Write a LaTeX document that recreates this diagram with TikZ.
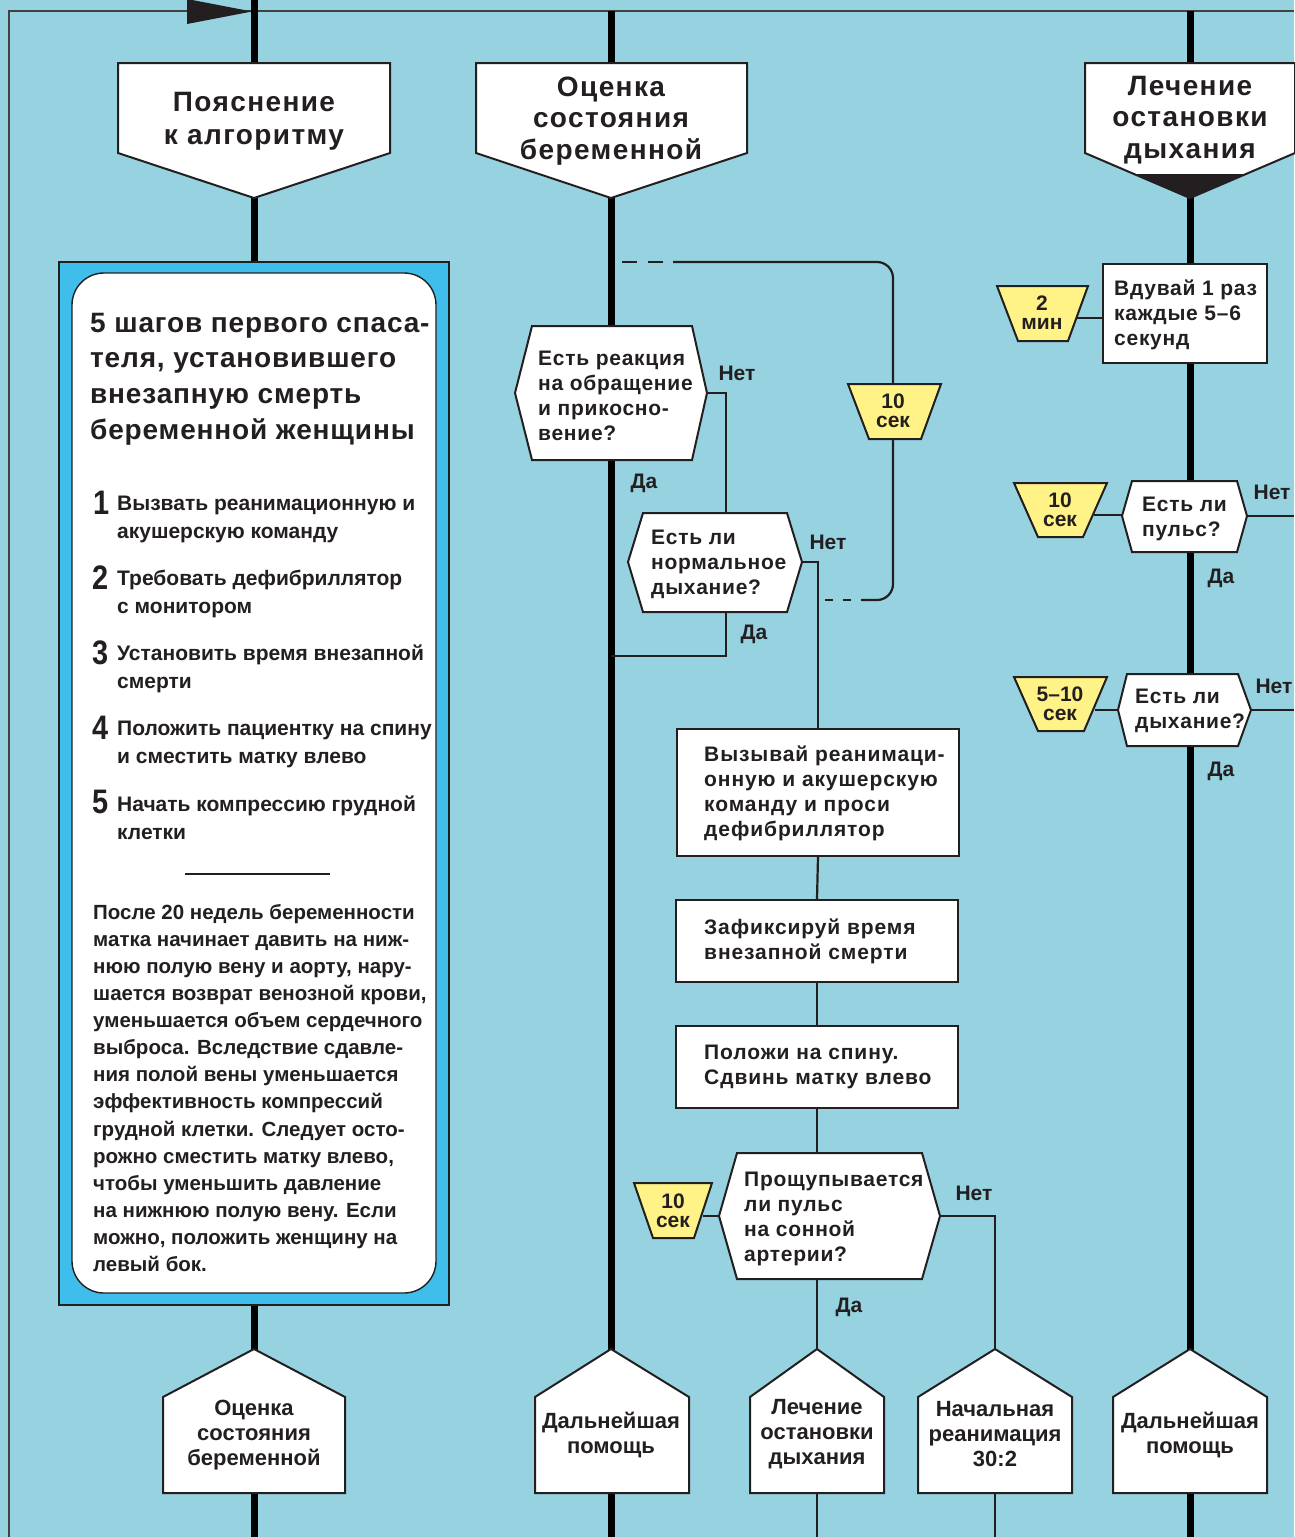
\documentclass[tikz,border=0pt]{standalone}
\usepackage{fontspec}
\setmainfont{Liberation Sans}
\newfontfamily\hdfont{Liberation Sans}[LetterSpace=5]
\newfontfamily\qfont{Liberation Sans}[LetterSpace=3.5]
\newfontfamily\rfont{Liberation Sans}[LetterSpace=4.3]
\newfontfamily\ttlfont{Liberation Sans}[LetterSpace=3]
\newfontfamily\numfont{Liberation Sans}[FakeStretch=0.85]
\definecolor{bgc}{HTML}{96D2E0}
\definecolor{boxblue}{HTML}{3FBDEB}
\definecolor{yel}{HTML}{FFF388}
\definecolor{ink}{HTML}{231F20}
\begin{document}
\begin{tikzpicture}[x=1pt,y=-1pt,
  lane/.style={line width=7pt, draw=black},
  conn/.style={line width=2.2pt, draw=ink},
  shp/.style={fill=white, draw=ink, line width=2pt, line join=miter},
  yshp/.style={fill=yel, draw=ink, line width=2pt},
  rbox/.style={shp, inner sep=0, anchor=north west},
  hdr/.style={inner sep=0, text=ink, align=center, font=\hdfont\bfseries\fontsize{28}{31.5}\selectfont},
  qtxt/.style={inner sep=0, text=ink, align=left, anchor=west, font=\qfont\bfseries\fontsize{21}{25}\selectfont},
  rtxt/.style={inner sep=0, text=ink, align=left, anchor=west, font=\rfont\bfseries\fontsize{21}{25}\selectfont},
  lbl/.style={inner sep=0, text=ink, font=\bfseries\fontsize{21}{25}\selectfont},
  ttxt/.style={inner sep=0, text=ink, align=center, font=\bfseries\fontsize{21}{19}\selectfont},
  btxt/.style={inner sep=0, text=ink, align=center, font=\bfseries\fontsize{22}{25}\selectfont},
  ttl/.style={inner sep=0, text=ink, align=left, anchor=west, font=\ttlfont\bfseries\fontsize{28}{35.7}\selectfont},
  itm/.style={inner sep=0, text=ink, align=left, anchor=west, font=\bfseries\fontsize{21}{28}\selectfont},
  num/.style={inner sep=0, text=ink, anchor=base west, font=\numfont\bfseries\fontsize{34}{34}\selectfont},
  par/.style={inner sep=0, text=ink, align=left, anchor=west, font=\bfseries\fontsize{20.5}{27.1}\selectfont}
]
\fill[bgc] (0,0) rectangle (1294,1537);
\useasboundingbox (0,0) rectangle (1294,1537);

% frame and flag
\coordinate (fBL) at (9,1537); \coordinate (fTL) at (9,11); \coordinate (fTR) at (1294,11);
\draw[ink!85, line width=1.4pt] (fBL) -- (fTL) -- (fTR);
\fill[ink] (187,-1) -- (252,11.5) -- (187,24) -- cycle;

% lanes
\coordinate (L1a) at (254,0);   \coordinate (L1b) at (254,1537);
\coordinate (L2a) at (611,11);  \coordinate (L2b) at (611,1537);
\coordinate (L3a) at (1190,11); \coordinate (L3b) at (1190,1537);
\draw[lane] (L1a) -- (L1b);
\draw[lane] (L2a) -- (L2b);
\draw[lane] (L3a) -- (L3b);

% named points for connectors
\coordinate (d1E) at (707,393);
\coordinate (d2top) at (726,513);
\coordinate (d2E) at (802,562);
\coordinate (d2S) at (726,612);
\coordinate (j1) at (611,656);
\coordinate (d3N) at (817,1153);
\coordinate (d3E) at (940,1216);
\coordinate (d3S) at (817,1279);
\coordinate (d3W) at (720,1216);
\coordinate (t5E) at (703,1216);
\coordinate (p3N) at (817,1349); \coordinate (p3S) at (817,1493); \coordinate (p3end) at (817,1537);
\coordinate (p4N) at (995,1349); \coordinate (p4S) at (995,1493); \coordinate (p4end) at (995,1537);
\coordinate (lpA) at (673,262); \coordinate (lpB) at (862,600);
\coordinate (t2E) at (1076,318); \coordinate (rDw) at (1102,318);
\coordinate (t3E) at (1094,515); \coordinate (d4W) at (1122,515);
\coordinate (d4E) at (1247,516); \coordinate (out1) at (1294,516);
\coordinate (t4E) at (1095,710); \coordinate (d5W) at (1118,710);
\coordinate (d5E) at (1251,710); \coordinate (out2) at (1294,710);

% rectangles
\node[rbox, minimum width=282, minimum height=127] (rA) at (676,728) {};
\node[rbox, minimum width=282, minimum height=82] (rB) at (675,899) {};
\node[rbox, minimum width=282, minimum height=82] (rC) at (675,1025) {};

% thin connectors
\draw[conn] (d1E) -| (d2top);
\draw[conn] (d2E) -| (rA.north);
\draw[conn] (d2S) |- (j1);
\draw[conn] (rA.south) -- (rB.north);
\draw[conn] (rB.south) -- (rC.north);
\draw[conn] (rC.south) -- (d3N);
\draw[conn] (d3E) -| (p4N);
\draw[conn] (d3S) -- (p3N);
\draw[conn] (t5E) -- (d3W);
\draw[conn] (p3S) -- (p3end);
\draw[conn] (p4S) -- (p4end);
\draw[conn, rounded corners=16] (lpA) -- (893,262) -- (893,600) -- (lpB);
\draw[conn, dash pattern=on 15pt off 11pt] (622,262) -- (lpA);
\draw[conn, dash pattern=on 8pt off 10pt] (825,600) -- (lpB);
\draw[conn] (t2E) -- (rDw);
\draw[conn] (t3E) -- (d4W);
\draw[conn] (d4E) -- (out1);
\draw[conn] (t4E) -- (d5W);
\draw[conn] (d5E) -- (out2);

% header pentagons
\draw[shp] (118,63) -- (390,63) -- (390,153) -- (254,198) -- (118,153) -- cycle;
\draw[shp] (476,63) -- (747,63) -- (747,153) -- (611,198) -- (476,153) -- cycle;
\draw[shp] (1085,63) -- (1295,63) -- (1295,153) -- (1190,198) -- (1085,153) -- cycle;
\fill[ink] (1133,174) -- (1247,174) -- (1190,198) -- cycle;

% left explanation box
\draw[fill=boxblue, draw=ink, line width=1.6pt] (59,262) rectangle (449,1305);
\draw[fill=white, draw=ink, line width=1.4pt, rounded corners=32] (72,273) rectangle (436,1293);
\coordinate (sepA) at (185,874); \coordinate (sepB) at (330,874);
\draw[line width=2pt, ink] (sepA) -- (sepB);

% decisions (hexagons)
\draw[shp] (532,326) -- (692,326) -- (707,393) -- (692,460) -- (532,460) -- (515,393) -- cycle;
\draw[shp] (643,513) -- (787,513) -- (802,562) -- (787,612) -- (643,612) -- (628,562) -- cycle;
\draw[shp] (737,1153) -- (922,1153) -- (940,1216) -- (922,1279) -- (737,1279) -- (719,1216) -- cycle;
\draw[shp] (1132,481) -- (1237,481) -- (1247,516) -- (1237,552) -- (1132,552) -- (1122,516) -- cycle;
\draw[shp] (1127,674) -- (1238,674) -- (1251,710) -- (1238,746) -- (1127,746) -- (1118,710) -- cycle;
\node[rbox, minimum width=164, minimum height=99] (rD) at (1102,263) {};

% yellow timers
\draw[yshp] (848,384) -- (941,384) -- (921,439) -- (869,439) -- cycle;
\draw[yshp] (997,286) -- (1088,286) -- (1068,341) -- (1018,341) -- cycle;
\draw[yshp] (1014,483) -- (1107,483) -- (1083,537) -- (1038,537) -- cycle;
\draw[yshp] (1014,677) -- (1107,677) -- (1084,731) -- (1038,731) -- cycle;
\draw[yshp] (634,1183) -- (712,1183) -- (694,1238) -- (653,1238) -- cycle;

% bottom pentagons
\draw[shp] (163,1397) -- (254,1349) -- (345,1397) -- (345,1493) -- (163,1493) -- cycle;
\draw[shp] (535,1397) -- (611,1349) -- (689,1397) -- (689,1493) -- (535,1493) -- cycle;
\draw[shp] (750,1397) -- (817,1349) -- (884,1397) -- (884,1493) -- (750,1493) -- cycle;
\draw[shp] (918,1397) -- (995,1349) -- (1072,1397) -- (1072,1493) -- (918,1493) -- cycle;
\draw[shp] (1113,1397) -- (1190,1349) -- (1267,1397) -- (1267,1493) -- (1113,1493) -- cycle;

% header texts
\node[hdr, font=\hdfont\bfseries\fontsize{28}{33}\selectfont] (h1) at (254,121) {Пояснение\\к алгоритму};
\node[hdr] (h2) at (611,121) {Оценка\\состояния\\беременной};
\node[hdr] (h3) at (1190,120) {Лечение\\остановки\\дыхания};

% left box texts
\node[ttl] (title) at (90,379) {5 шагов первого спаса-\\теля, установившего\\внезапную смерть\\беременной женщины};
\node[itm] (i1) at (117,519) {Вызвать реанимационную и\\акушерскую команду};
\node[itm] (i2) at (117,594) {Требовать дефибриллятор\\с монитором};
\node[itm] (i3) at (117,669) {Установить время внезапной\\смерти};
\node[itm] (i4) at (117,744) {Положить пациентку на спину\\и сместить матку влево};
\node[itm] (i5) at (117,818) {Начать компрессию грудной\\клетки};
\node[num] (n1) at (93,514) {1};
\node[num] (n2) at (92,589) {2};
\node[num] (n3) at (92,664) {3};
\node[num] (n4) at (92,739) {4};
\node[num] (n5) at (92,813) {5};
\node[par] (para) at (93,1088) {После 20 недель беременности\\матка начинает давить на ниж-\\нюю полую вену и аорту, нару-\\шается возврат венозной крови,\\уменьшается объем сердечного\\выброса. Вследствие сдавле-\\ния полой вены уменьшается\\эффективность компрессий\\грудной клетки. Следует осто-\\рожно сместить матку влево,\\чтобы уменьшить давление\\на нижнюю полую вену. Если\\можно, положить женщину на\\левый бок.};

% column 2 texts
\node[qtxt] (q1) at (538,396) {Есть реакция\\на обращение\\и прикосно-\\вение?};
\node[qtxt] (q2) at (651,564) {Есть ли\\нормальное\\дыхание?};
\node[qtxt] (q3) at (744,1219) {Прощупывается\\ли пульс\\на сонной\\артерии?};
\node[rtxt] (ta) at (704,793) {Вызывай реанимаци-\\онную и акушерскую\\команду и проси\\дефибриллятор};
\node[rtxt] (tb) at (704,941) {Зафиксируй время\\внезапной смерти};
\node[rtxt] (tc) at (704,1067) {Положи на спину.\\Сдвинь матку влево};
\node[lbl] (no1) at (737,373) {Нет};
\node[lbl] (yes1) at (644,483) {Да};
\node[lbl] (no2) at (828,542) {Нет};
\node[lbl] (yes2) at (754,634) {Да};
\node[lbl] (no3) at (974,1193) {Нет};
\node[lbl] (yes3) at (849,1307) {Да};
\node[ttxt] (tm1) at (893,411) {10\\сек};
\node[ttxt] (tm5) at (673,1211) {10\\сек};

% column 3 texts
\node[rtxt, font=\qfont\bfseries\fontsize{21}{25}\selectfont] (td) at (1114,315) {Вдувай 1 раз\\каждые 5–6\\секунд};
\node[qtxt] (q4) at (1142,519) {Есть ли\\пульс?};
\node[qtxt] (q5) at (1135,711) {Есть ли\\дыхание?};
\node[ttxt] (tm2) at (1042,313) {2\\мин};
\node[ttxt] (tm3) at (1060,510) {10\\сек};
\node[ttxt] (tm4) at (1060,704) {5–10\\сек};
\node[lbl] (no4) at (1272,492) {Нет};
\node[lbl] (yes4) at (1221,578) {Да};
\node[lbl] (no5) at (1274,686) {Нет};
\node[lbl] (yes5) at (1221,771) {Да};

% bottom texts
\node[btxt] (b1) at (254,1435) {Оценка\\состояния\\беременной};
\node[btxt] (b2) at (611,1435) {Дальнейшая\\помощь};
\node[btxt] (b3) at (817,1434) {Лечение\\остановки\\дыхания};
\node[btxt] (b4) at (995,1434) {Начальная\\реанимация\\30:2};
\node[btxt] (b5) at (1190,1435) {Дальнейшая\\помощь};
\end{tikzpicture}
\end{document}
